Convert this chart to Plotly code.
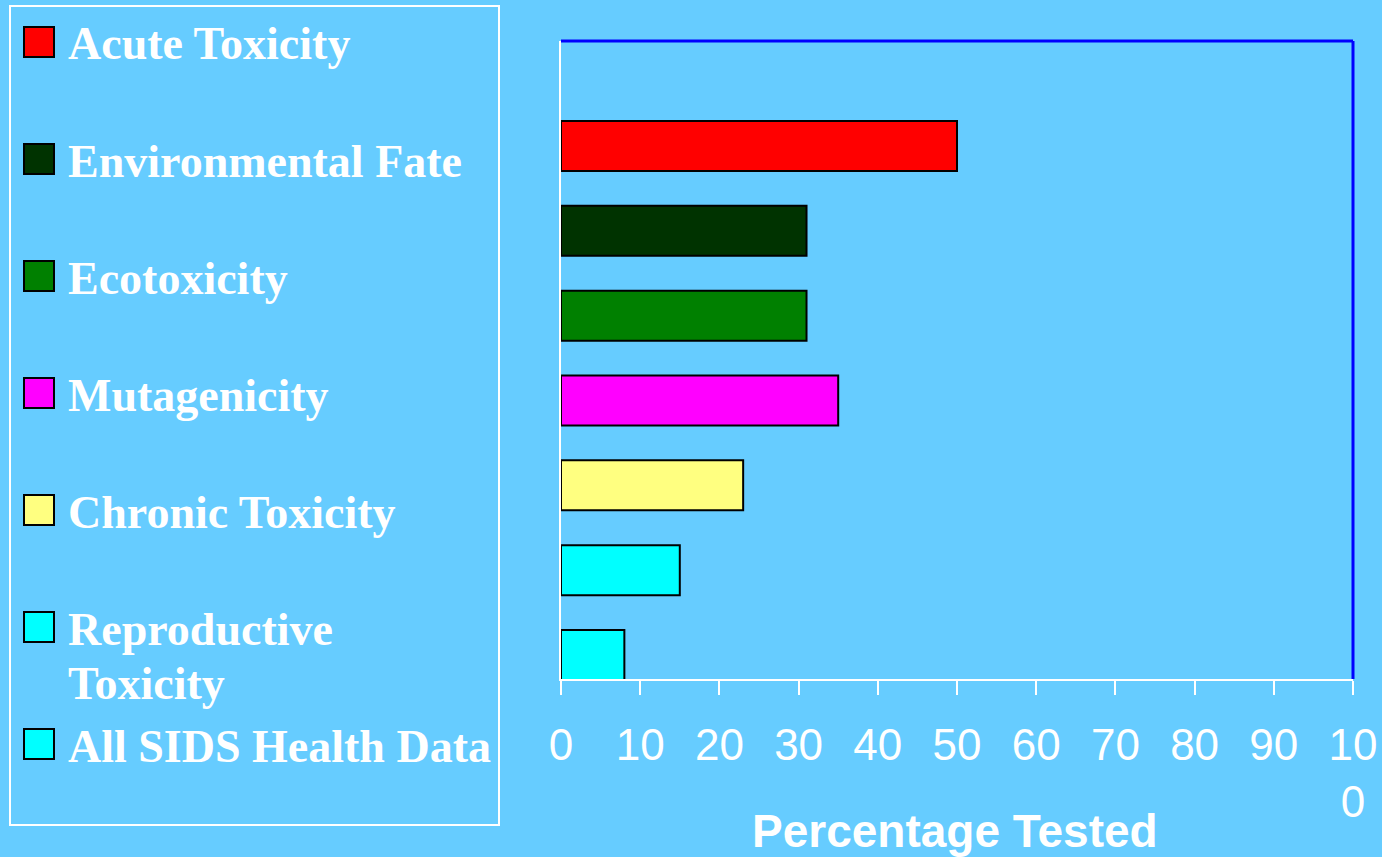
import plotly.graph_objects as go

# ---- data ----
categories = ["All SIDS Health Data", "Reproductive Toxicity", "Chronic Toxicity",
              "Mutagenicity", "Ecotoxicity", "Environmental Fate", "Acute Toxicity"]
values = [8, 15, 23, 35, 31, 31, 50]
colors = ["#00FFFF", "#00FFFF", "#FFFF80", "#FF00FF", "#008000", "#003300", "#FF0000"]

tick_values = [0, 10, 20, 30, 40, 50, 60, 70, 80, 90, 100]
tick_labels = ["0", "10", "20", "30", "40", "50", "60", "70", "80", "90", "10<br>0"]
x_title = "Percentage Tested"

# ---- layout geometry (pixels) ----
W, H = 1382, 857
L, R, T, B = 561, 1353, 41, 679
BG = "#66CCFF"


def px2x(px):
    return (px - L) / (R - L)


def py2y(py):
    return (B - py) / (B - T)


fig = go.Figure()
fig.add_trace(go.Bar(
    x=values, y=categories, orientation="h",
    marker=dict(color=colors, line=dict(color="black", width=2)),
    width=0.59, showlegend=False, hoverinfo="x+y",
))

shapes = [
    # top and right blue frame lines
    dict(type="line", xref="paper", yref="paper", x0=0, x1=1, y0=1, y1=1,
         line=dict(color="#0000FF", width=3)),
    dict(type="line", xref="paper", yref="paper", x0=1, x1=1, y0=0, y1=1,
         line=dict(color="#0000FF", width=3)),
    # legend box
    dict(type="rect", xref="paper", yref="paper",
         x0=px2x(10), x1=px2x(499), y0=py2y(825), y1=py2y(6),
         line=dict(color="white", width=2), fillcolor="rgba(0,0,0,0)"),
]
annotations = []

# legend items, top to bottom (reverse of bar order)
leg_cats = categories[::-1]
leg_cols = colors[::-1]
leg_font = dict(family="Liberation Serif", size=46, color="white")
for i, (cat, col) in enumerate(zip(leg_cats, leg_cols)):
    cy = 42 + 117 * i
    shapes.append(dict(type="rect", xref="paper", yref="paper",
                       x0=px2x(24), x1=px2x(54), y0=py2y(cy + 15), y1=py2y(cy - 15),
                       fillcolor=col, line=dict(color="black", width=2)))
    if cat == "Reproductive Toxicity":
        lines = cat.split(" ")
    else:
        lines = [cat]
    for j, line in enumerate(lines):
        annotations.append(dict(
            xref="paper", yref="paper", x=px2x(66), y=py2y(cy + 2 + 54 * j),
            xanchor="left", yanchor="middle", showarrow=False,
            text="<b>" + line + "</b>", font=leg_font))

# axis title
annotations.append(dict(
    xref="paper", yref="paper", x=px2x(955), y=py2y(831),
    xanchor="center", yanchor="middle", showarrow=False,
    text="<b>" + x_title + "</b>",
    font=dict(family="Liberation Sans", size=46, color="white")))

fig.update_layout(
    width=W, height=H, autosize=False,
    margin=dict(l=L, r=W - R, t=T, b=H - B, pad=0, autoexpand=False),
    paper_bgcolor=BG, plot_bgcolor=BG,
    shapes=shapes, annotations=annotations,
    showlegend=False,
    xaxis=dict(range=[0, 100], tickvals=tick_values, ticktext=tick_labels,
               ticks="outside", ticklen=14, tickwidth=2, tickcolor="white",
               ticklabelstandoff=12, automargin=False,
               showline=True, linecolor="white", linewidth=2,
               showgrid=False, zeroline=False, fixedrange=True,
               tickfont=dict(family="Liberation Sans", size=44, color="white")),
    yaxis=dict(type="category", categoryorder="array", categoryarray=categories,
               range=[-0.283, 7.238], showticklabels=False, ticks="",
               automargin=False,
               showline=True, linecolor="white", linewidth=2,
               showgrid=False, zeroline=False, fixedrange=True),
)

fig.write_html("out.html", config={"displayModeBar": False},
               post_script="document.body.style.margin='0';"
                           "document.body.style.overflow='hidden';"
                           "document.body.style.background='" + BG + "';")
